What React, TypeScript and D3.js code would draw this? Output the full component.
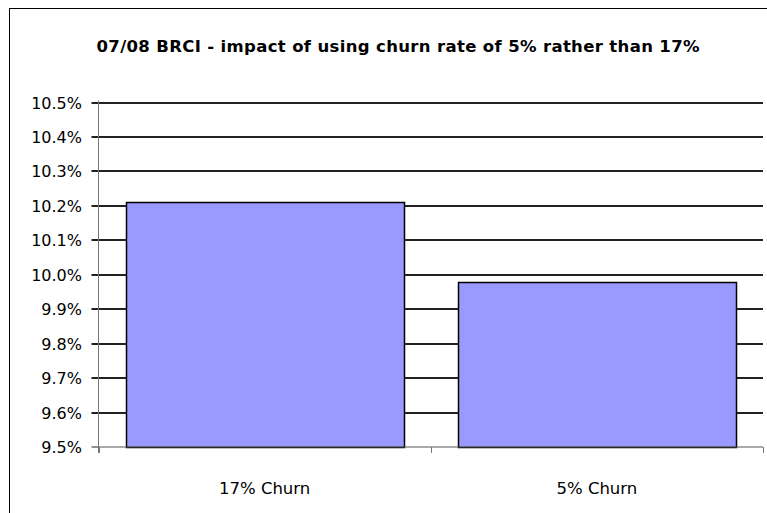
import React from "react";
import * as d3 from "d3";

const categories = ["17% Churn", "5% Churn"];
const values = [10.21, 9.98];
const yTicks = [9.5, 9.6, 9.7, 9.8, 9.9, 10.0, 10.1, 10.2, 10.3, 10.4, 10.5];
const title = "07/08 BRCI - impact of using churn rate of 5% rather than 17%";

export default function App() {
  const W = 767, H = 513;
  const left = 98.5, right = 763, top = 102.5, bottom = 447;
  const x = d3.scaleBand<string>().domain(categories).range([left, right]).paddingInner(0.164).paddingOuter(0.082);
  const xb = d3.scaleBand<string>().domain(categories).range([left, right]);
  const y = d3.scaleLinear().domain([9.5, 10.5]).range([bottom, top]);
  const font = "Tahoma, 'DejaVu Sans', sans-serif";
  return (
    <div style={{ position: "fixed", left: 0, top: 0 }}>
      <svg width={W} height={H} style={{ display: "block", background: "#fff" }}>
        <rect x={9.5} y={8.5} width={900} height={700} fill="#fff" stroke="#000" strokeWidth={1} />
        <text x={398} y={52} textAnchor="middle" fontFamily={font} fontWeight="bold" fontSize={16.5} textLength={603} lengthAdjust="spacing" fill="#000">{title}</text>
        {yTicks.map((t) => (
          <g key={t}>
            {t > 9.5 && (
              <line x1={left} x2={right} y1={Math.round(y(t))} y2={Math.round(y(t))} stroke="#222" strokeWidth={2} />
            )}
            <line x1={left - 7} x2={left} y1={Math.round(y(t))} y2={Math.round(y(t))} stroke="#222" strokeWidth={t > 9.5 ? 2 : 1} />
            <text x={82} y={y(t) + 6} textAnchor="end" fontFamily={font} fontSize={16} fill="#000">{d3.format(".1f")(t) + "%"}</text>
          </g>
        ))}
        {categories.map((c, i) => (
          <rect key={c} x={Math.round(x(c)!) + 0.5} y={Math.round(y(values[i])) + 0.5} width={Math.round(x.bandwidth())} height={Math.round(bottom - y(values[i]))} fill="#9999FF" stroke="#000" strokeWidth={1.5} />
        ))}
        <line x1={left} x2={left} y1={top - 2} y2={bottom + 6} stroke="#777" strokeWidth={1} />
        <line x1={left} x2={right} y1={bottom} y2={bottom} stroke="#555" strokeWidth={1} />
        {[left, left + xb.bandwidth(), right].map((v, i) => (
          <line key={i} x1={Math.round(v) + 0.5} x2={Math.round(v) + 0.5} y1={bottom} y2={bottom + 6} stroke="#777" strokeWidth={1} />
        ))}
        {categories.map((c) => (
          <text key={c} x={xb(c)! + xb.bandwidth() / 2} y={494} textAnchor="middle" fontFamily={font} fontSize={16.5} fill="#000">{c}</text>
        ))}
      </svg>
    </div>
  );
}
